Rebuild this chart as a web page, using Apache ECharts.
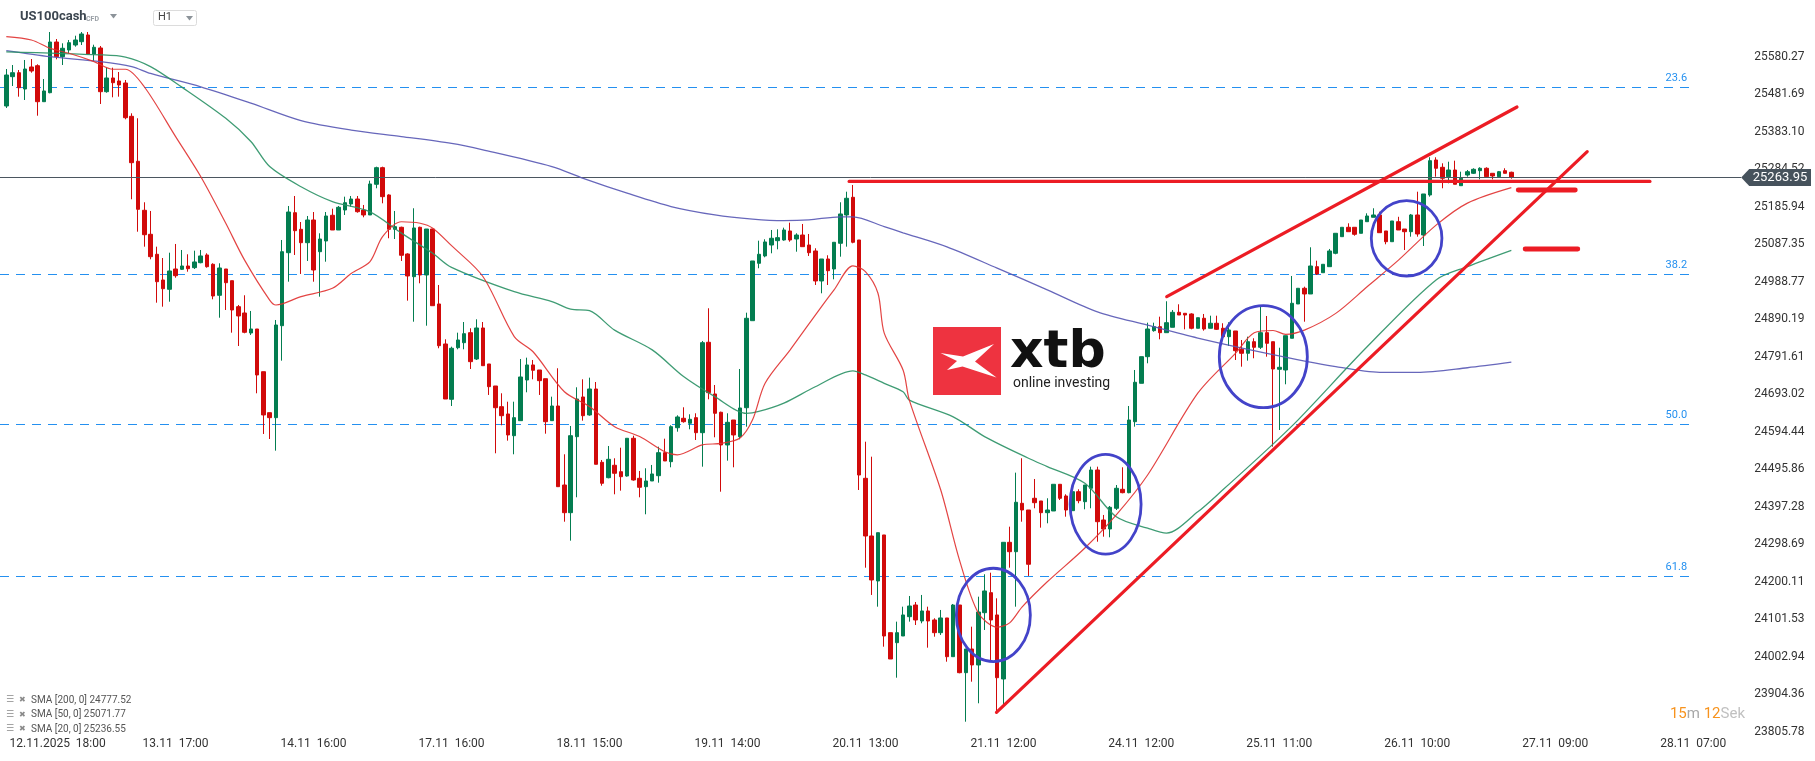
<!DOCTYPE html>
<html><head><meta charset="utf-8">
<script src="https://cdn.jsdelivr.net/npm/echarts@6/dist/echarts.min.js"></script>
<style>html,body{margin:0;padding:0;background:#fff;overflow:hidden}#c{width:1815px;height:761px}</style>
</head><body><div id="c"></div><script>
// ---------- DATA ----------
// candles: [open, close, low, high], hourly bars of US100cash
const candles = [
[25451.4,25532.9,25446.2,25548.7],[25528.5,25539.0,25504.0,25559.2],[25539.0,25499.5,25475.9,25546.1],[25496.1,25548.7,25467.2,25572.4],
[25554.0,25543.5,25539.0,25575.0],[25557.4,25462.7,25425.9,25561.1],[25462.7,25490.9,25462.7,25522.4],[25486.4,25619.7,25484.8,25646.0],
[25619.7,25581.1,25574.2,25627.6],[25581.1,25603.2,25559.2,25616.3],[25598.7,25617.9,25590.0,25625.0],[25611.8,25625.0,25607.4,25636.3],
[25620.5,25640.8,25611.8,25646.0],[25638.2,25588.2,25588.2,25646.0],[25588.2,25605.8,25569.8,25612.6],[25604.0,25489.0,25456.7,25609.2],
[25489.0,25525.1,25486.4,25552.2],[25525.1,25512.7,25474.3,25552.2],[25517.2,25506.7,25475.9,25540.8],[25511.9,25420.6,25416.4,25519.8],
[25424.3,25302.3,25206.1,25432.2],[25306.0,25179.7,25120.8,25419.1],[25177.1,25112.9,25081.4,25198.2],[25114.0,25055.1,25048.2,25175.3],
[25061.4,24989.3,24934.1,25081.4],[24993.8,24970.9,24923.6,25051.6],[24969.3,25017.5,24936.7,25065.6],[25022.7,25005.1,24999.8,25088.5],
[25021.9,25030.6,25020.1,25072.7],[25030.6,25023.5,25015.6,25061.4],[25026.2,25041.2,25022.7,25070.9],[25039.3,25057.0,25037.7,25072.7],
[25059.6,25028.8,25026.2,25064.0],[25035.1,24951.7,24943.0,25037.7],[24953.5,25025.4,24894.6,25037.7],[25022.7,24986.7,24914.9,25022.7],
[24992.0,24914.9,24855.2,24992.0],[24923.6,24899.2,24820.2,24928.1],[24907.0,24856.2,24853.6,24953.6],[24854.4,24864.9,24849.2,24912.3],
[24864.9,24744.0,24695.8,24864.9],[24752.6,24638.8,24588.8,24752.6],[24644.8,24631.7,24575.6,24644.8],[24631.7,24875.4,24544.9,24888.6],
[24873.6,25068.2,24781.6,25099.0],[25065.6,25172.6,24989.3,25188.4],[25170.8,25123.5,25059.6,25214.7],[25127.1,25091.9,25009.6,25146.3],
[25091.9,25151.6,25043.8,25162.1],[25151.6,25020.1,24989.3,25172.6],[25068.2,25101.6,24949.9,25116.6],[25096.4,25162.1,25041.9,25172.6],
[25164.0,25125.3,25125.3,25181.3],[25125.3,25185.0,25125.3,25188.4],[25177.9,25197.1,25164.8,25212.9],[25193.7,25206.8,25186.6,25214.7],
[25206.8,25173.4,25170.8,25214.7],[25177.9,25164.8,25158.7,25191.1],[25164.8,25246.3,25164.8,25255.0],[25245.5,25289.2,25235.0,25291.8],
[25289.2,25212.9,25195.5,25291.8],[25217.4,25127.1,25103.5,25219.2],[25127.1,25134.0,25101.6,25175.3],[25132.4,25058.8,25043.8,25134.0],
[25062.2,25004.4,24939.4,25064.0],[25002.5,25130.6,24884.1,25182.4],[25132.4,25007.0,24985.1,25134.0],[25007.0,25127.9,24873.6,25127.9],
[25127.9,24926.2,24926.2,25127.9],[24930.7,24821.0,24814.2,24980.7],[24825.5,24680.8,24680.8,24837.8],[24680.0,24814.2,24662.4,24818.4],
[24815.7,24836.0,24811.5,24855.2],[24828.9,24852.6,24811.5,24883.3],[24855.2,24779.0,24759.7,24866.8],[24786.0,24867.6,24783.4,24890.4],
[24867.6,24768.4,24768.4,24883.3],[24772.9,24713.2,24691.4,24772.9],[24715.0,24657.9,24538.0,24715.0],[24660.6,24636.9,24611.7,24695.8],
[24641.4,24586.2,24571.2,24673.7],[24584.3,24631.7,24535.4,24673.7],[24623.8,24738.7,24623.8,24786.0],[24730.8,24770.3,24698.4,24789.5],
[24770.3,24756.3,24732.6,24783.4],[24757.1,24729.0,24691.4,24757.1],[24734.2,24621.1,24589.6,24734.2],[24623.8,24662.4,24623.8,24686.9],
[24662.4,24450.2,24450.2,24761.6],[24454.6,24381.8,24358.1,24535.4],[24381.8,24584.3,24308.2,24609.8],[24581.7,24680.8,24422.3,24711.6],
[24686.1,24636.9,24623.8,24732.6],[24638.8,24707.1,24636.9,24736.9],[24707.1,24509.1,24509.1,24725.5],[24514.3,24459.1,24452.8,24520.4],
[24473.8,24522.2,24472.2,24557.2],[24506.5,24485.4,24430.2,24524.9],[24489.6,24476.5,24439.7,24552.7],[24478.3,24577.5,24476.5,24577.5],
[24577.5,24467.8,24466.0,24584.3],[24472.2,24448.6,24422.3,24491.5],[24450.2,24465.2,24377.6,24498.6],[24465.2,24483.6,24465.2,24507.3],
[24479.1,24539.6,24460.7,24555.4],[24539.6,24517.8,24517.8,24576.4],[24516.0,24608.0,24501.2,24611.7],[24605.3,24633.5,24594.8,24637.9],
[24630.1,24621.1,24618.5,24659.0],[24616.9,24627.4,24601.1,24640.6],[24631.7,24592.2,24573.0,24643.2],[24592.2,24828.9,24502.8,24833.4],
[24830.0,24697.4,24680.0,24919.4],[24694.0,24643.2,24580.1,24717.6],[24645.9,24559.9,24437.0,24647.5],[24559.9,24619.5,24518.6,24643.2],
[24625.6,24586.2,24501.2,24625.6],[24581.7,24657.2,24574.8,24759.7],[24657.9,24893.1,24608.0,24907.8],[24886.8,25043.8,24886.8,25043.8],
[25037.7,25061.4,25024.6,25097.2],[25057.0,25093.8,25053.5,25100.9],[25085.8,25103.5,25064.0,25125.3],[25097.2,25105.1,25074.5,25127.1],
[25099.0,25125.3,25097.2,25131.4],[25122.7,25099.0,25094.5,25144.5],[25101.6,25112.1,25068.2,25116.6],[25112.1,25081.4,25081.4,25141.1],
[25085.8,25065.6,25057.0,25114.8],[25070.1,24991.2,24980.7,25077.2],[24991.2,25049.0,24958.8,25049.0],[25049.0,25018.2,24980.7,25058.8],
[25022.7,25093.0,24995.6,25093.0],[25090.3,25167.4,25055.1,25198.2],[25164.8,25208.7,25081.4,25226.0],[25211.3,25093.0,25090.3,25243.7],
[25099.0,24480.9,24441.5,25099.0],[24472.2,24320.5,24237.1,24568.5],[24320.5,24204.8,24165.4,24529.1],[24202.2,24329.2,24134.6,24329.2],
[24323.2,24057.5,24029.4,24323.2],[24066.2,23997.0,23997.0,24066.2],[24039.9,24066.2,23947.8,24095.2],[24057.5,24112.8,24057.5,24134.6],
[24108.3,24136.4,24095.2,24162.7],[24139.0,24099.6,24086.4,24146.9],[24097.0,24123.3,24090.9,24165.4],[24123.3,24097.0,24026.8,24134.6],
[24099.6,24066.2,24055.7,24104.1],[24066.2,24104.9,24060.2,24125.9],[24104.9,24003.1,23989.9,24104.9],[24003.1,24139.0,24003.1,24141.7],
[24139.0,23961.0,23959.4,24139.0],[23961.0,24023.3,23832.1,24023.3],[24023.3,23981.3,23937.3,24082.0],[23981.3,24120.6,23880.5,24160.9],
[24118.8,24175.9,24073.3,24219.8],[24171.4,24099.6,23994.4,24224.0],[24112.8,23947.8,23854.2,24156.6],[23944.4,24303.9,23874.2,24303.9],
[24303.9,24279.2,24237.1,24345.0],[24279.2,24409.2,24134.6,24487.1],[24406.5,24388.9,24358.1,24524.9],[24388.9,24246.1,24215.4,24388.9],
[24419.7,24408.1,24393.4,24470.4],[24412.6,24381.8,24342.4,24412.6],[24381.8,24388.9,24353.9,24419.7],[24386.3,24456.5,24386.3,24456.5],
[24456.5,24419.7,24415.2,24456.5],[24425.7,24388.9,24371.3,24430.2],[24387.1,24437.0,24387.1,24437.0],[24437.0,24413.4,24406.5,24443.3],
[24410.7,24454.6,24390.7,24454.6],[24446.0,24494.1,24393.4,24502.8],[24494.1,24358.1,24305.5,24502.8],[24362.6,24338.9,24318.7,24375.8],
[24338.9,24396.0,24317.1,24399.4],[24393.4,24446.0,24388.9,24454.6],[24443.3,24434.4,24432.8,24501.2],[24434.4,24625.6,24432.8,24662.4],
[24621.1,24724.8,24608.0,24757.1],[24722.1,24792.1,24722.1,24792.1],[24792.1,24864.9,24774.7,24881.5],[24860.5,24871.0,24857.8,24881.5],
[24871.0,24855.2,24837.8,24897.3],[24855.2,24881.5,24855.2,24937.8],[24869.4,24908.8,24869.4,24914.9],[24908.8,24901.7,24901.7,24929.9],
[24906.2,24901.7,24864.1,24906.2],[24904.4,24866.8,24864.1,24906.2],[24866.8,24894.6,24866.8,24894.6],[24893.1,24864.9,24860.5,24904.4],
[24866.8,24880.0,24866.8,24899.9],[24880.0,24864.1,24862.3,24899.9],[24866.8,24844.7,24840.5,24880.0],[24844.7,24862.3,24820.2,24882.6],
[24859.7,24807.8,24783.4,24859.7],[24811.5,24801.0,24765.8,24836.0],[24801.0,24831.5,24781.6,24844.7],[24831.5,24816.8,24787.9,24840.5],
[24816.8,24855.2,24812.3,24923.6],[24855.2,24827.3,24792.1,24899.1],[24831.5,24759.7,24555.4,24831.5],[24758.9,24764.2,24599.3,24815.7],
[24757.1,24847.3,24719.5,24847.3],[24840.5,24932.5,24840.5,25004.3],[24930.7,24972.0,24930.7,24972.0],[24972.0,24957.0,24884.1,24976.2],
[24957.0,25030.6,24957.0,25079.8],[25028.8,25009.6,25007.0,25044.6],[25013.0,25035.1,25013.0,25035.1],[25028.8,25070.1,25028.8,25075.4],
[25064.0,25116.6,25061.4,25116.6],[25107.7,25132.4,25107.7,25132.4],[25132.4,25120.8,25120.8,25142.9],[25132.4,25114.0,25110.3,25132.4],
[25116.6,25151.6,25116.6,25151.6],[25147.1,25162.1,25147.1,25169.2],[25158.7,25164.8,25158.7,25182.4],[25164.8,25118.2,25118.2,25173.4],
[25122.7,25094.5,25087.7,25122.7],[25094.5,25149.0,25094.5,25149.0],[25147.1,25125.3,25125.3,25160.0],[25127.9,25120.8,25072.7,25127.9],
[25120.8,25164.8,25107.7,25167.4],[25164.8,25114.8,25107.7,25226.0],[25112.1,25220.0,25083.2,25220.0],[25217.4,25307.6,25212.9,25316.5],
[25309.4,25287.6,25265.5,25316.5],[25290.2,25261.3,25235.0,25300.7],[25265.5,25283.1,25248.1,25304.9],[25283.1,25245.5,25245.5,25307.6],
[25241.8,25261.3,25241.8,25278.6],[25269.9,25278.6,25265.5,25283.1],[25274.4,25284.9,25272.6,25287.6],[25281.3,25287.6,25258.6,25290.2],
[25287.6,25265.5,25263.9,25290.2],[25274.4,25267.4,25258.6,25274.4],[25265.5,25278.6,25265.5,25280.5],[25281.3,25274.4,25274.4,25287.6],
[25277.1,25263.9,25260.2,25278.6]
];
// moving averages: [bar index, value]
const sma200 = [[0,25597],[7,25581],[15,25568],[20,25555],[23,25537],[31,25502],[39,25459],[47,25413],[55,25388],[63,25371],[71,25353],[76,25336],[87,25292],[92,25261],[99,25222],[106,25187],[113,25165],[119,25154],[124,25150],[128,25152],[133,25160],[135,25160],[140,25134],[143,25118],[150,25081],[158,25025],[166,24968],[174,24910],[182,24875],[190,24841],[201,24801],[212,24766],[219,24751],[225,24751],[233,24763],[240,24777.5]];
const sma50 = [[0,25594],[15,25586],[19,25580],[23,25555],[28,25501],[35,25419],[39,25358],[42,25292],[47,25239],[52,25200],[58,25173],[63,25117],[68,25064],[71,25027],[81,24963],[87,24937],[90,24917],[93,24913],[97,24862],[103,24810],[108,24740],[113,24687],[118,24643],[120,24648],[124,24670],[129,24713],[135,24755],[137,24744],[140,24722],[143,24700],[144,24678],[151,24634],[156,24582],[163,24525],[166,24503],[172,24459],[177,24371],[182,24341],[185,24328],[190,24384],[194,24442],[201,24547],[206,24626],[217,24818],[228,24994],[233,25029],[240,25071.8]];
const sma20 = [[0,25634],[4,25625],[7,25603],[10,25590],[14,25568],[17,25548],[19,25548],[22,25502],[27,25371],[31,25266],[35,25143],[38,25046],[42,24941],[43,24928],[47,24950],[52,24972],[55,25011],[58,25042],[60,25108],[63,25147],[66,25143],[68,25130],[71,25084],[76,25003],[81,24845],[84,24805],[89,24700],[93,24661],[97,24608],[101,24582],[105,24542],[107,24534],[111,24560],[114,24564],[117,24578],[119,24626],[121,24722],[125,24810],[130,24924],[132,24968],[135,25031],[137,25016],[139,24959],[140,24854],[143,24757],[144,24678],[149,24442],[152,24257],[155,24118],[158,24081],[160,24092],[162,24134],[166,24200],[172,24289],[177,24376],[182,24481],[190,24696],[196,24801],[199,24855],[202,24861],[204,24851],[207,24862],[212,24906],[217,24976],[222,25046],[228,25138],[233,25196],[240,25236.6]];
const smaLegend = [['SMA [200, 0]','24777.52'],['SMA [50, 0]','25071.77'],['SMA [20, 0]','25236.55']];
const priceTicks = ['23805.78','23904.36','24002.94','24101.53','24200.11','24298.69','24397.28','24495.86','24594.44','24693.02','24791.61','24890.19','24988.77','25087.35','25185.94','25284.52','25383.10','25481.69','25580.27'];
const xLabels = [[5,'12.11.2025  18:00'],[27,'13.11  17:00'],[49,'14.11  16:00'],[71,'17.11  16:00'],[93,'18.11  15:00'],[115,'19.11  14:00'],[137,'20.11  13:00'],[159,'21.11  12:00'],[181,'24.11  12:00'],[203,'25.11  11:00'],[225,'26.11  10:00'],[247,'27.11  09:00'],[269,'28.11  07:00']];
const fibNames = ['23.6','38.2','50.0','61.8'];
const fibPrices = [25500.6,25008.8,24614.3,24215.3];
const lastPrice = 25263.95;
// drawn trend lines: [barIndex1, price1, barIndex2, price2]
const trendLines = [[134.4,25252.9,262.1,25252.9],[185.05,24949.9,240.9,25448.8],[157.9,23856.8,252.1,25331.5]];
const levelMarks = [[241.1,25230.5,250.2,25230.5],[242.2,25075.3,250.6,25075.3]];
// ellipses: [centre bar index, centre price, radius in bars, radius in price]
const ellipses = [[157.4,24112.8,5.9,122.8],[175.3,24403.9,5.66,131],[200.45,24792.1,7.02,134.1],[223.3,25103.5,5.63,99.2]];

// ---------- LAYOUT / STYLE ----------
const N = 277, GL = 3.16, GW = 1737.07, GH = 731.7;
const Y_MIN = 23805.78, Y_MAX = 25730.18;
const TICK = (25580.27 - 23805.78) / 18;
const FIB_END = 268.5;
const UP = '#037d50', DOWN = '#d10a0a', RED = '#ec1c24', EBLUE = '#4343c9';
const cats = Array.from({length: N}, (_, i) => String(i));
const labelMap = new Map(xLabels);

const chart = echarts.init(document.getElementById('c'), null, {renderer: 'canvas', width: 1815, height: 761});

function lineItem(api, w) {
  const a = api.coord([api.value(0), api.value(1)]);
  const b = api.coord([api.value(2), api.value(3)]);
  return {type: 'line', shape: {x1: a[0], y1: a[1], x2: b[0], y2: b[1]}, style: {stroke: RED, lineWidth: w, lineCap: 'round'}};
}

const option = {
  animation: false,
  backgroundColor: '#ffffff',
  textStyle: {fontFamily: 'Roboto, "Noto Sans", sans-serif'},
  grid: {left: GL, top: 0, width: GW, height: GH, outerBoundsMode: 'none', containLabel: false},
  xAxis: [
    {type: 'category', data: cats, boundaryGap: true, axisLine: {show: false}, axisTick: {show: false}, splitLine: {show: false},
     axisLabel: {interval: (i) => labelMap.has(i), margin: 6, color: '#333', fontSize: 12,
       formatter: (v, i) => { const idx = +v; const t = labelMap.get(idx) || ''; return idx === xLabels[0][0] ? '{f|' + t + '}' : t; },
       rich: {f: {fontSize: 12, color: '#333', padding: [0, 0, 0, 40]}}}},
    {type: 'value', min: -0.5, max: N - 0.5, show: false}
  ],
  yAxis: [
    {type: 'value', min: Y_MIN, max: Y_MAX, show: false},
    {type: 'value', min: 0, max: (Y_MAX - Y_MIN) / TICK, interval: 1, position: 'right',
     axisLine: {show: false}, axisTick: {show: false}, splitLine: {show: false},
     axisLabel: {margin: 14, color: '#333', fontSize: 12, showMaxLabel: false, formatter: (v) => priceTicks[Math.round(v)] !== undefined && Math.abs(v - Math.round(v)) < 1e-6 ? priceTicks[Math.round(v)] : ''}}
  ],
  series: [
    {type: 'custom', name: 'fib', xAxisIndex: 1, yAxisIndex: 0, silent: true, clip: false, z: 1,
     data: fibPrices.map((p, i) => [i, p]),
     renderItem: (params, api) => {
       const p = api.coord([FIB_END, api.value(1)]);
       const y = Math.round(p[1]) + 0.5;
       return {type: 'group', children: [
         {type: 'line', shape: {x1: 0, y1: y, x2: p[0], y2: y}, style: {stroke: '#2490f0', lineWidth: 1, lineDash: [9, 7]}},
         {type: 'text', x: p[0] - 3, y: y - 9, style: {text: fibNames[params.dataIndex], fill: '#2490f0', fontSize: 11, align: 'right', verticalAlign: 'middle', fontFamily: 'Roboto'}}
       ]};
     }},
    {type: 'custom', name: 'price', xAxisIndex: 1, yAxisIndex: 0, silent: true, clip: false, z: 3,
     data: [[0, lastPrice]],
     renderItem: (params, api) => {
       const y = Math.round(api.coord([0, api.value(1)])[1]) + 0.5;
       const xr = params.coordSys.x + params.coordSys.width + 1;
       return {type: 'group', children: [
         {type: 'line', shape: {x1: 0, y1: y, x2: xr, y2: y}, style: {stroke: '#4b5660', lineWidth: 1}},
         {type: 'polygon', shape: {points: [[xr, y], [xr + 8, y - 8.5], [1811, y - 8.5], [1811, y + 8.5], [xr + 8, y + 8.5]]}, style: {fill: '#46525c'}},
         {type: 'text', x: 1780, y: y + 0.5, style: {text: lastPrice.toFixed(2), fill: '#fff', fontSize: 13, align: 'center', verticalAlign: 'middle', fontFamily: 'Roboto'}}
       ]};
     }},
    {type: 'candlestick', xAxisIndex: 0, yAxisIndex: 0, data: candles, barWidth: 4, z: 2,
     itemStyle: {color: UP, color0: DOWN, borderColor: UP, borderColor0: DOWN, borderWidth: 1}},
    {type: 'line', name: 'SMA200', xAxisIndex: 1, yAxisIndex: 0, data: sma200, symbol: 'none', smooth: 0.3, z: 4,
     lineStyle: {color: '#5656b4', width: 1.3, opacity: 0.9}},
    {type: 'line', name: 'SMA50', xAxisIndex: 1, yAxisIndex: 0, data: sma50, symbol: 'none', smooth: 0.3, z: 4,
     lineStyle: {color: '#2a9165', width: 1.3, opacity: 0.9}},
    {type: 'line', name: 'SMA20', xAxisIndex: 1, yAxisIndex: 0, data: sma20, symbol: 'none', smooth: 0.3, z: 4,
     lineStyle: {color: '#e0302f', width: 1.2, opacity: 0.9}},
    {type: 'custom', name: 'trend', xAxisIndex: 1, yAxisIndex: 0, silent: true, clip: false, z: 6, data: trendLines,
     renderItem: (params, api) => lineItem(api, 3.2)},
    {type: 'custom', name: 'marks', xAxisIndex: 1, yAxisIndex: 0, silent: true, clip: false, z: 6, data: levelMarks,
     renderItem: (params, api) => lineItem(api, 4.8)},
    {type: 'custom', name: 'ellipses', xAxisIndex: 1, yAxisIndex: 0, silent: true, clip: false, z: 6, data: ellipses,
     renderItem: (params, api) => {
       const c = api.coord([api.value(0), api.value(1)]);
       const s = api.size([api.value(2), api.value(3)]);
       return {type: 'ellipse', shape: {cx: c[0], cy: c[1], rx: s[0], ry: s[1]}, style: {fill: 'none', stroke: EBLUE, lineWidth: 2.8}};
     }}
  ],
  graphic: [
    // header
    {type: 'text', left: 20, top: 10, style: {text: 'US100cash', fill: '#3c4650', fontSize: 13, fontWeight: 'bold', fontFamily: 'Roboto'}},
    {type: 'text', left: 86, top: 16, style: {text: 'CFD', fill: '#9aa0a6', fontSize: 7, fontWeight: 'bold', fontFamily: 'Roboto'}},
    {type: 'polygon', shape: {points: [[110, 14], [117, 14], [113.5, 18.5]]}, style: {fill: '#8c9399'}},
    {type: 'rect', shape: {x: 153.5, y: 10.5, width: 43, height: 15, r: 2}, style: {fill: '#fff', stroke: '#dcdcdc', lineWidth: 1}},
    {type: 'text', left: 158, top: 12, style: {text: 'H1', fill: '#444', fontSize: 11, fontFamily: 'Roboto'}},
    {type: 'polygon', shape: {points: [[186, 16], [193, 16], [189.5, 20.5]]}, style: {fill: '#8c9399'}},
    // xtb logo
    {type: 'group', z: 0, children: [
      {type: 'rect', shape: {x: 933, y: 327, width: 68, height: 68}, style: {fill: '#ee3340'}},
      {type: 'polygon', shape: {points: [[940.5, 353], [963, 356.5], [994, 344], [975, 361.5], [996.5, 377.5], [962.5, 366.5], [947, 370], [957, 361]]}, style: {fill: '#ffffff'}},
      {type: 'text', x: 1010, y: 353, style: {text: 'xtb', fill: '#111', fontSize: 52, fontWeight: 'bold', fontFamily: '"DejaVu Sans"', verticalAlign: 'middle'}},
      {type: 'text', x: 1013, y: 383, style: {text: 'online investing', fill: '#222', fontSize: 14, fontFamily: 'Roboto', verticalAlign: 'middle'}}
    ]},
    // countdown
    {type: 'text', right: 70, top: 707, style: {rich: {o: {fill: '#f7931e', fontSize: 15, fontFamily: 'Roboto'}, g: {fill: '#a8a8a8', fontSize: 15, fontFamily: 'Roboto'}, l: {fill: '#c0c0c0', fontSize: 15, fontFamily: 'Roboto'}}, text: '{o|15}{g|m }{o|12}{l|Sek}'}}
  ]
};
// legend rows
smaLegend.forEach((r, i) => {
  const y = 700 + i * 14.5;
  option.graphic.push({type: 'text', x: 6, y: y, style: {text: '☰', fill: '#8a8a8a', fontSize: 9, verticalAlign: 'middle', fontFamily: '"DejaVu Sans"'}});
  option.graphic.push({type: 'text', x: 19, y: y, style: {text: '✖', fill: '#8a8a8a', fontSize: 8, verticalAlign: 'middle', fontFamily: '"DejaVu Sans"'}});
  option.graphic.push({type: 'text', x: 31, y: y, style: {text: r[0] + ' ' + r[1], fill: '#555', fontSize: 10, verticalAlign: 'middle', fontFamily: 'Roboto'}});
});
chart.setOption(option);
</script></body></html>
